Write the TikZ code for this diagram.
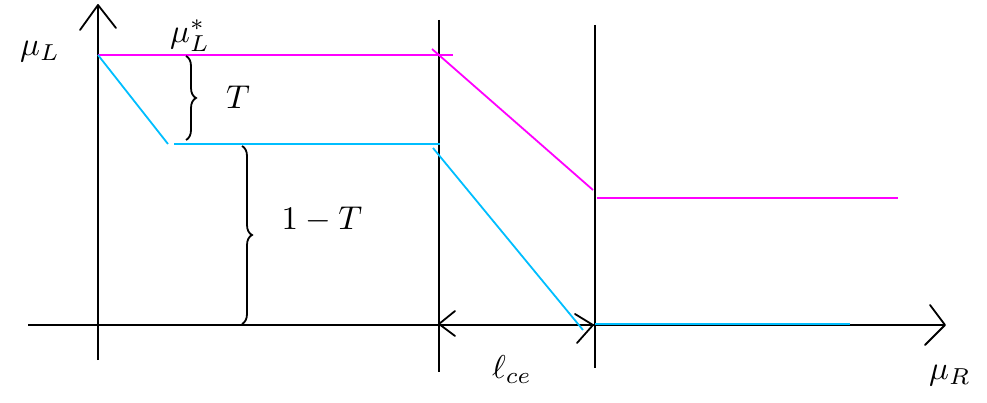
\documentclass[tikz,border=0pt]{standalone}
\usetikzlibrary{decorations.pathreplacing}
\definecolor{mag}{RGB}{255,0,255}
\definecolor{cy}{RGB}{0,190,255}
\begin{document}
\begin{tikzpicture}[x=1pt,y=-1pt,
  axis/.style={line width=1.8pt,black},
  magl/.style={line width=1.8pt,mag},
  cyl/.style={line width=1.8pt,cy},
  chev/.style={line width=1.8pt,black,line cap=round,line join=round},
  brc/.style={line width=1.8pt,black,decorate,decoration={brace,amplitude=10pt}},
  lbl/.style={scale=3.3,inner sep=0pt}]
\useasboundingbox (0,0) rectangle (987,403);
% axes
\coordinate (ybot) at (98,360); \coordinate (ytop) at (98,5);
\coordinate (xl) at (28,325); \coordinate (xr) at (945,325);
\draw[axis] (ybot) -- (ytop);
\draw[chev] (80,30) -- (ytop) -- (116,28);
\draw[axis] (xl) -- (xr);
\draw[chev] (930,305) -- (xr) -- (925,345);
% vertical lines
\coordinate (v1t) at (439,20); \coordinate (v1b) at (439,372);
\coordinate (v2t) at (595,25); \coordinate (v2b) at (595,368);
\draw[axis] (v1t) -- (v1b);
\draw[axis] (v2t) -- (v2b);
% magenta
\coordinate (m0) at (98,55); \coordinate (m1) at (453,55);
\coordinate (m2) at (432,49); \coordinate (m3) at (593,190);
\coordinate (m4) at (597,198); \coordinate (m5) at (898,198);
\draw[magl] (m0) -- (m1);
\draw[magl] (m2) -- (m3);
\draw[magl] (m4) -- (m5);
% cyan
\coordinate (c0) at (98,55); \coordinate (c1) at (168,144);
\coordinate (c2) at (174,144); \coordinate (c3) at (440,144);
\coordinate (c4) at (433,148); \coordinate (c5) at (583,330);
\coordinate (c6) at (595,324); \coordinate (c7) at (850,324);
\draw[cyl] (c0) -- (c1);
\draw[cyl] (c2) -- (c3);
\draw[cyl] (c4) -- (c5);
\draw[cyl] (c6) -- (c7);
% l_ce arrows
\coordinate (la) at (439,324); \coordinate (ra) at (593,325);
\draw[chev] (455,311) -- (la) -- (455,336);
\draw[chev] (575,314) -- (ra) -- (577,343);
% braces
\coordinate (b1t) at (186,56); \coordinate (b1b) at (186,140);
\draw[brc] (b1t) -- (b1b);
\coordinate (b2t) at (242,146); \coordinate (b2b) at (242,324);
\draw[brc] (b2t) -- (b2b);
% labels
\node[lbl] (muL) at (40,52) {$\mu_L$};
\node[lbl] (muLs) at (190,36) {$\mu_L^{*}$};
\node[lbl] (T) at (238,97) {$T$};
\node[lbl] (omT) at (322,220) {$1-T$};
\node[lbl] (lce) at (512,370) {$\ell_{ce}$};
\node[lbl] (muR) at (950,376) {$\mu_R$};
\end{tikzpicture}
\end{document}
